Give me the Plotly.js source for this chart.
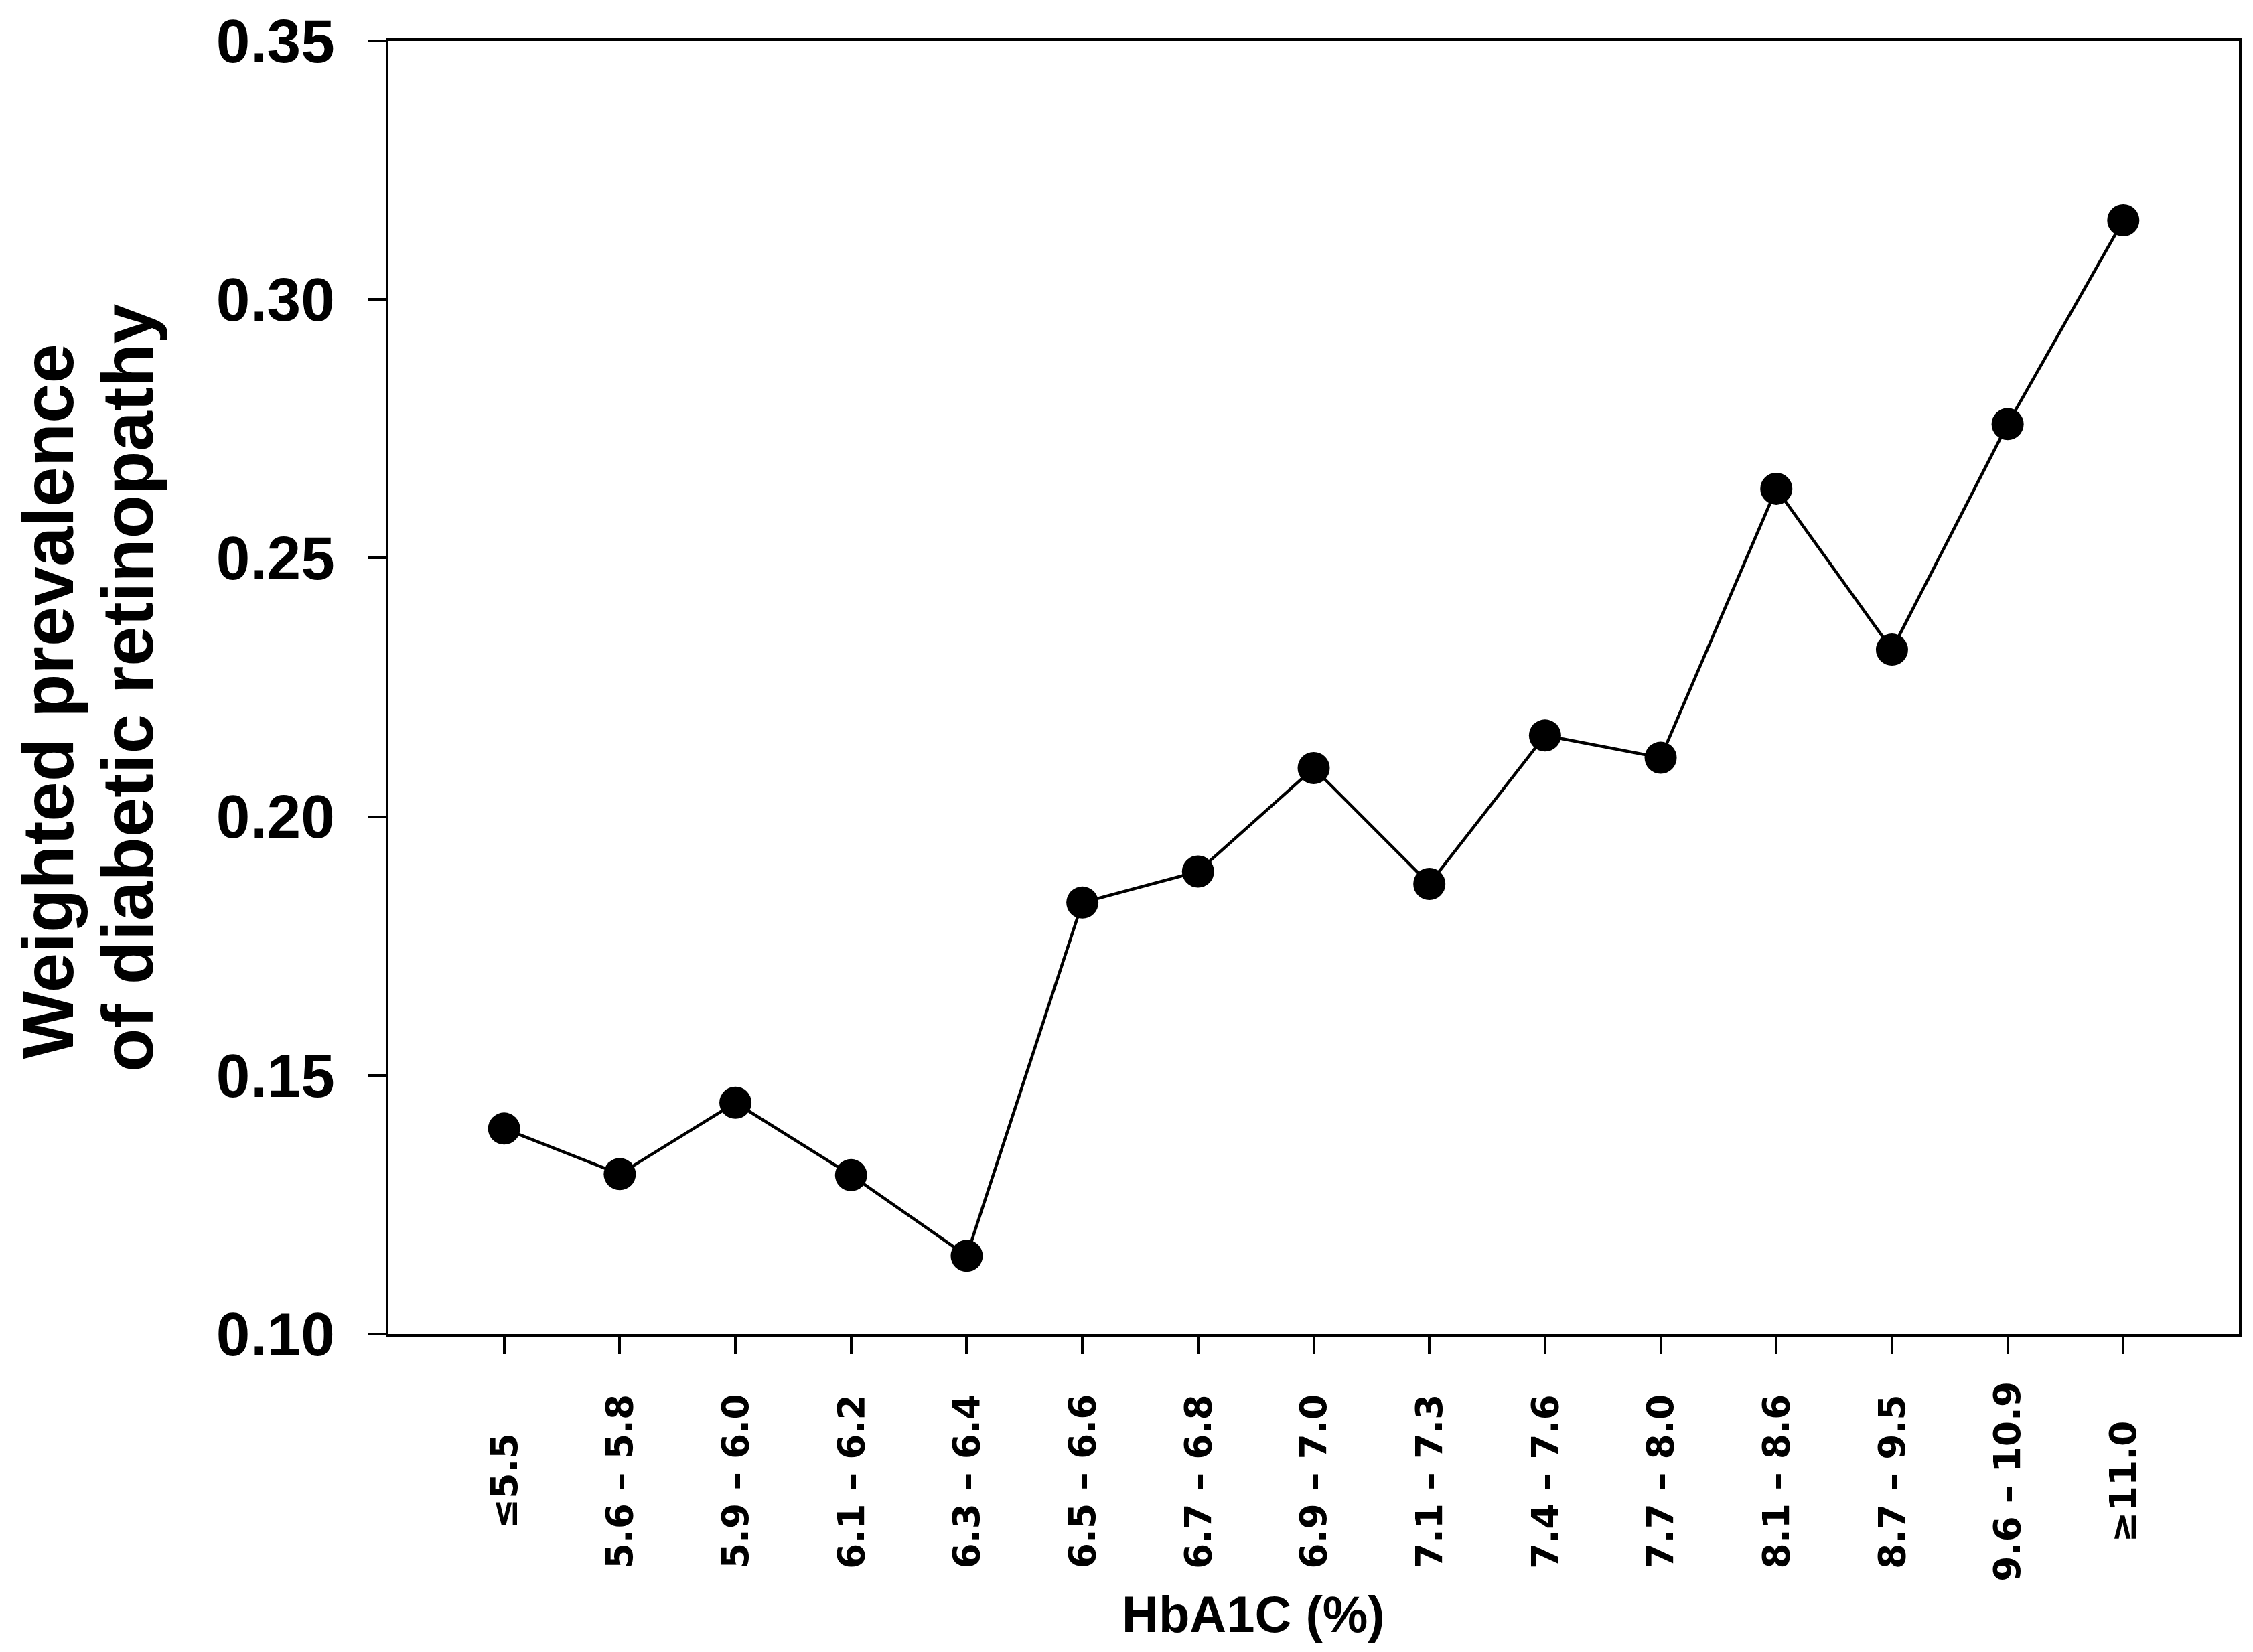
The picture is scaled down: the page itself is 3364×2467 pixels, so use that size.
<!DOCTYPE html>
<html>
<head>
<meta charset="utf-8">
<script src="https://cdn.plot.ly/plotly-3.0.1.min.js"></script>
<style>html,body{margin:0;padding:0;background:#fff}</style>
</head>
<body>
<div id="grafica" style="width:3364px;height:2467px"></div>
<script>
// HbA1C categories and weighted prevalence
var categorias = ['≤5.5', '5.6 – 5.8', '5.9 – 6.0', '6.1 – 6.2', '6.3 – 6.4', '6.5 – 6.6',
    '6.7 – 6.8', '6.9 – 7.0', '7.1 – 7.3', '7.4 – 7.6', '7.7 – 8.0', '8.1 – 8.6',
    '8.7 – 9.5', '9.6 – 10.9', '≥11.0'];
var prevalencia = [0.1397, 0.1309, 0.1447, 0.1307, 0.1151, 0.1834, 0.1894, 0.2094,
    0.1870, 0.2157, 0.2114, 0.2634, 0.2323, 0.2759, 0.3153];
var ticksY = [0.10, 0.15, 0.20, 0.25, 0.30, 0.35];
var tituloY = ['Weighted prevalence', 'of diabetic retinopathy'];
var tituloX = 'HbA1C (%)';

var arial = 'Liberation Sans, Arial, sans-serif';
var dejavu = 'DejaVu Sans, Verdana, sans-serif';

var trace = {
    x: categorias,
    y: prevalencia,
    type: 'scatter',
    mode: 'lines+markers',
    line: {color: '#000', width: 4.5},
    marker: {color: '#000', size: 48},
    cliponaxis: false,
    hoverinfo: 'skip'
};

// x tick labels, rotated and centred under each tick
var anotaciones = categorias.map(function (c) {
    return {
        x: c, xref: 'x', y: -0.114, yref: 'paper',
        text: c, showarrow: false, textangle: -90,
        xanchor: 'center', yanchor: 'middle',
        font: {family: dejavu, size: 55, color: '#000', weight: 'bold'}
    };
});

// two-line y title
anotaciones.push({
    x: -0.184, xref: 'paper', y: 0.489, yref: 'paper',
    text: tituloY[0], showarrow: false, textangle: -90,
    xanchor: 'center', yanchor: 'middle',
    font: {family: arial, size: 107, color: '#000', weight: 'bold'}
});
anotaciones.push({
    x: -0.1408, xref: 'paper', y: 0.4997, yref: 'paper',
    text: tituloY[1], showarrow: false, textangle: -90,
    xanchor: 'center', yanchor: 'middle',
    font: {family: arial, size: 107, color: '#000', weight: 'bold'}
});
anotaciones.push({
    x: 0.4676, xref: 'paper', y: -0.2165, yref: 'paper',
    text: tituloX, showarrow: false,
    xanchor: 'center', yanchor: 'middle',
    font: {family: arial, size: 76, color: '#000', weight: 'bold'}
});

var layout = {
    width: 3364,
    height: 2467,
    margin: {l: 580, r: 21, t: 61, b: 475},
    paper_bgcolor: '#fff',
    plot_bgcolor: '#fff',
    showlegend: false,
    xaxis: {
        type: 'category',
        range: [-1, 15],
        showgrid: false,
        zeroline: false,
        showline: true,
        mirror: true,
        linecolor: '#000',
        linewidth: 4,
        ticks: 'outside',
        ticklen: 26,
        tickwidth: 4,
        tickcolor: '#000',
        showticklabels: false
    },
    yaxis: {
        range: [0.10, 0.35],
        tickvals: ticksY,
        tickformat: '.2f',
        showgrid: false,
        zeroline: false,
        showline: true,
        mirror: true,
        linecolor: '#000',
        linewidth: 4,
        ticks: 'outside',
        ticklen: 26,
        tickwidth: 4,
        tickcolor: '#000',
        ticklabelstandoff: 32,
        tickfont: {family: arial, size: 91, color: '#000', weight: 'bold'}
    },
    annotations: anotaciones
};

Plotly.newPlot('grafica', [trace], layout, {staticPlot: true});
</script>
</body>
</html>
